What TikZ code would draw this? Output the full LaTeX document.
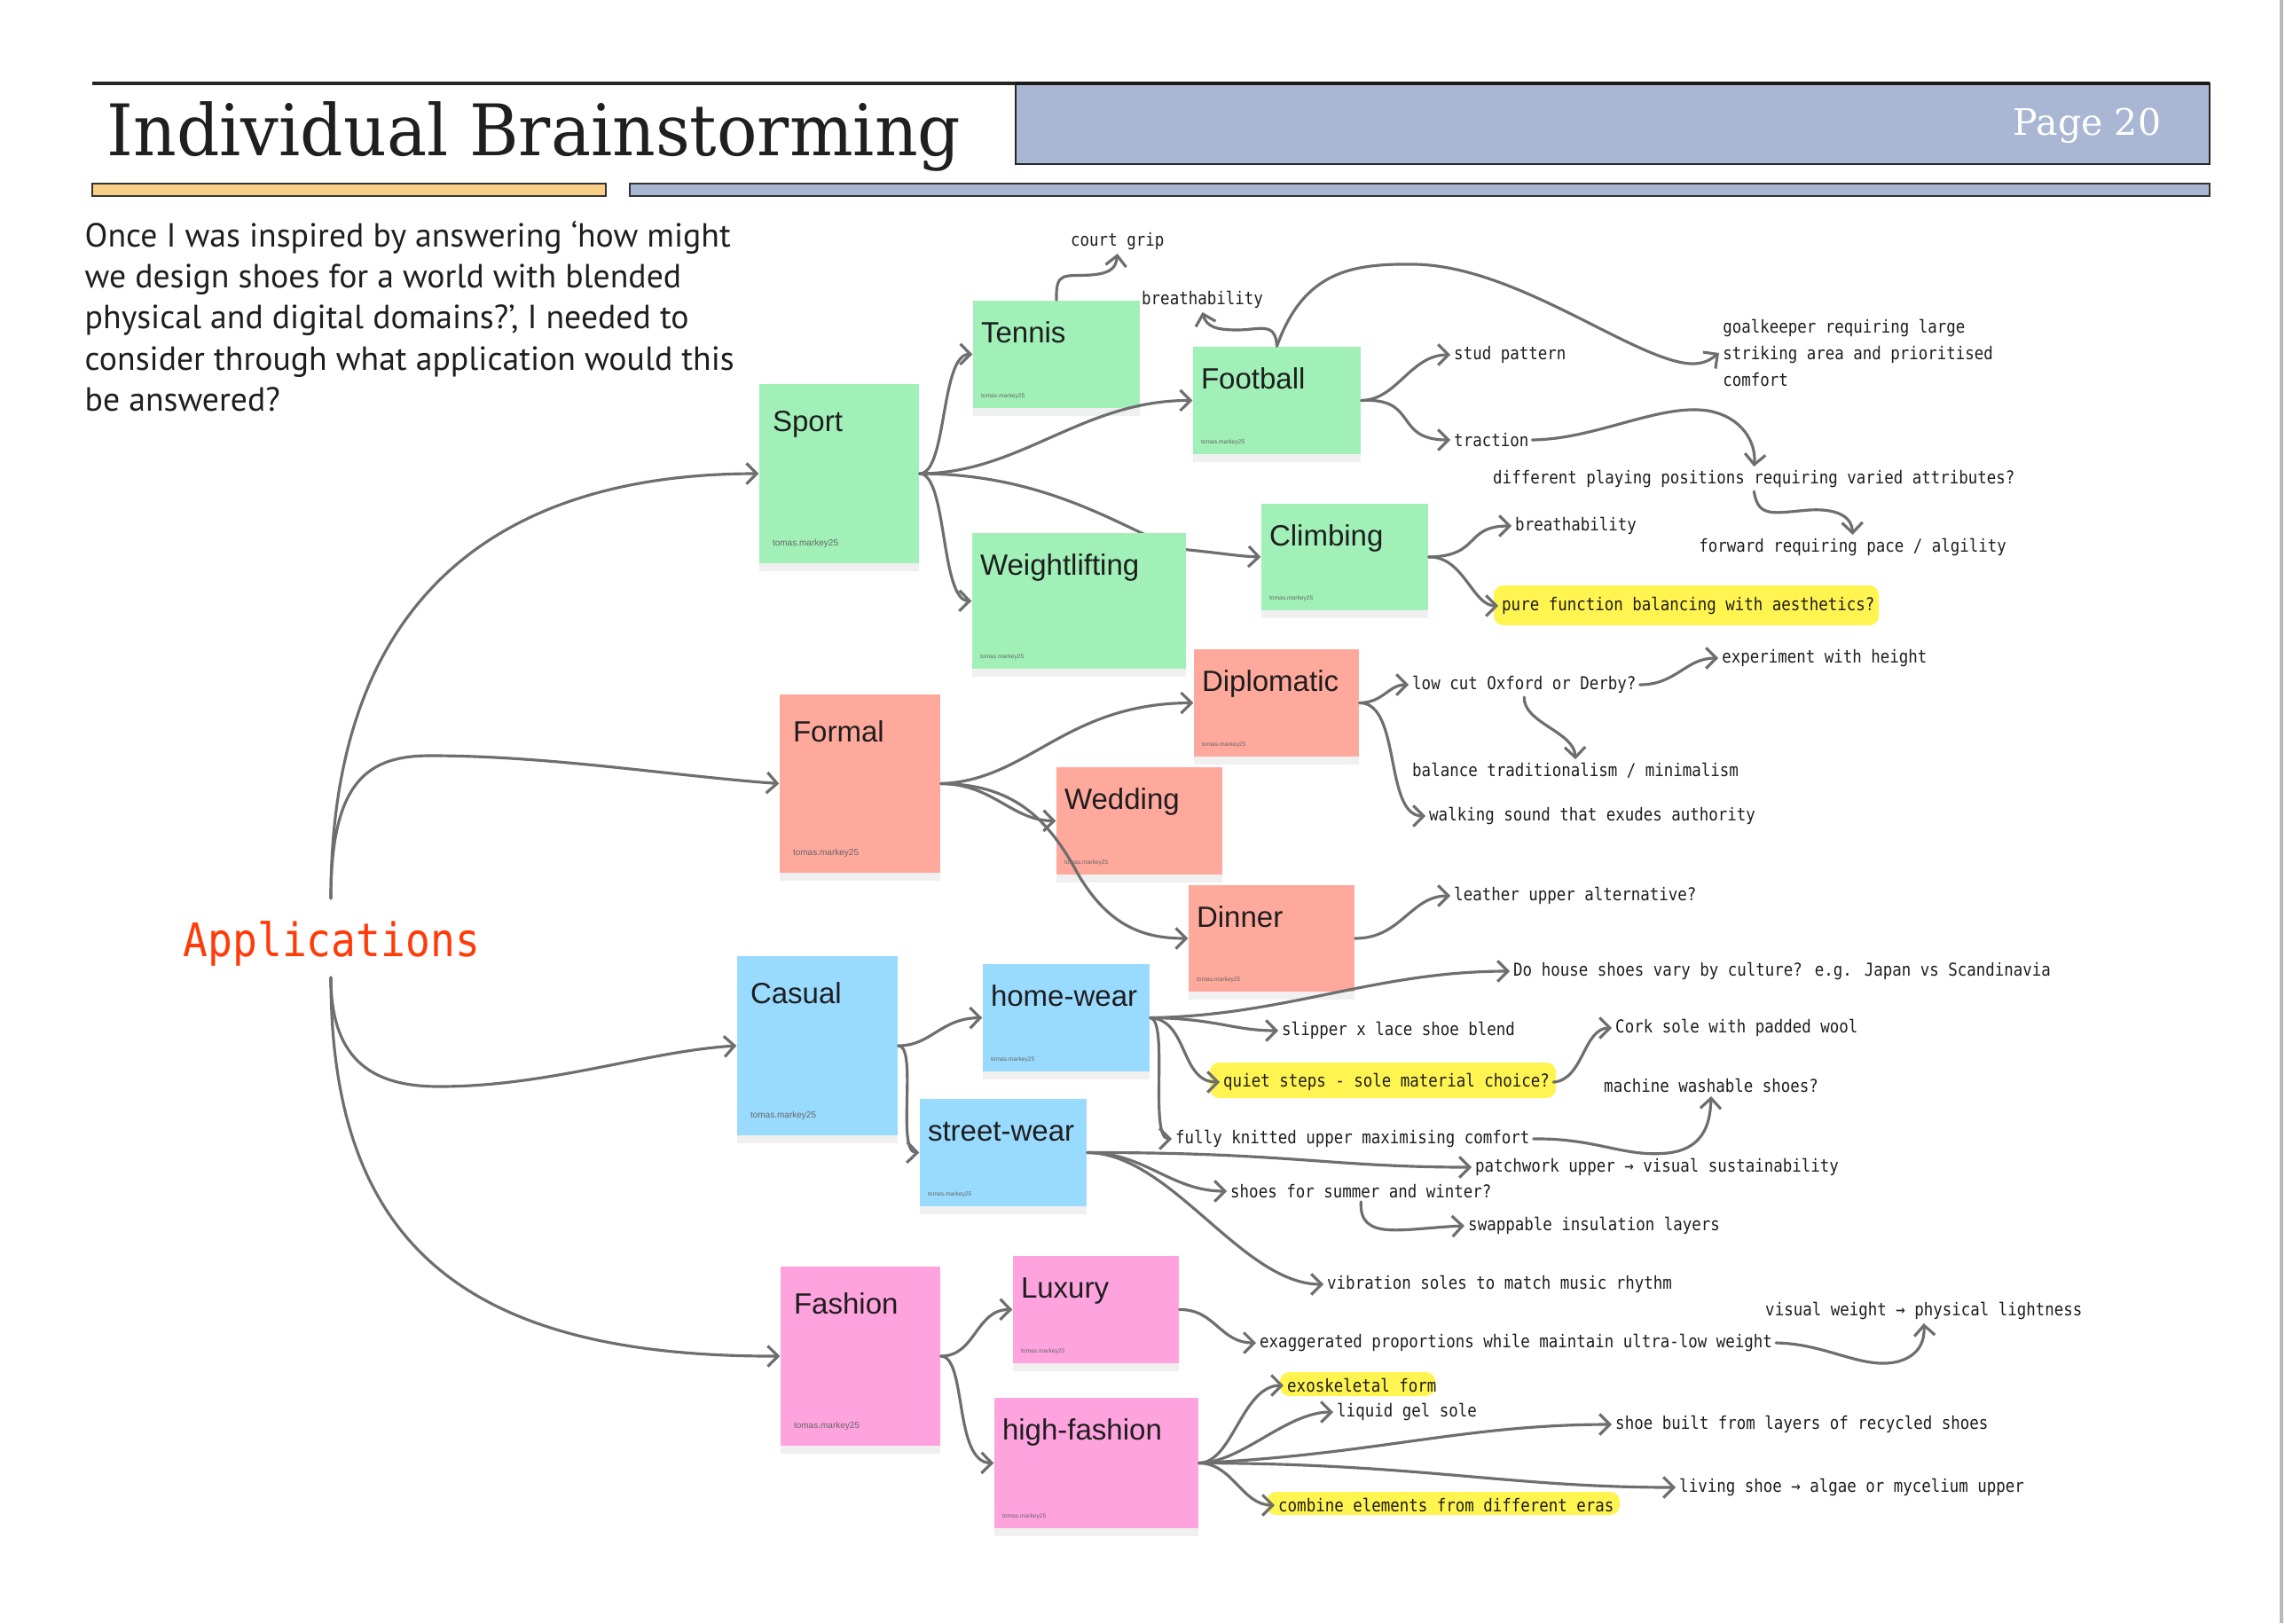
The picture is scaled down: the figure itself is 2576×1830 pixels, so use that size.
\documentclass[tikz,border=0pt]{standalone}
\usepackage{fontspec}
\usepackage{graphicx}
\usetikzlibrary{arrows.meta,calc,shadows}
\setmainfont{Liberation Sans}
\newfontfamily\titlefont{DejaVu Serif}
\newfontfamily\parafont{PT Sans}
\newfontfamily\lblfont[FakeStretch=0.872]{DejaVu Sans Mono}
\newfontfamily\appfont[FakeStretch=0.889]{DejaVu Sans Mono}
\definecolor{sgreen}{HTML}{A1F0B8}
\definecolor{ssalmon}{HTML}{FFA99D}
\definecolor{sblue}{HTML}{99DBFF}
\definecolor{spink}{HTML}{FFA3DF}
\definecolor{hblue}{HTML}{A9B6D4}
\definecolor{horange}{HTML}{F8CF85}
\definecolor{connc}{HTML}{6E6E6E}
\definecolor{appred}{HTML}{FF3B0A}
\definecolor{hilite}{HTML}{FFF450}
\definecolor{ink}{HTML}{1E1E1E}
\pgfdeclarelayer{bg}
\pgfsetlayers{bg,main}
\tikzset{
  conn/.style={draw=connc, line width=0.9pt, line cap=round, -{Straight Barb[length=3.3pt,width=6.6pt]}},
  lbl/.style={font=\lblfont\fontsize{5.69}{8.42}\selectfont, text=ink, inner sep=1pt, anchor=west},
  snote/.style={draw=none, inner sep=0pt, drop shadow={opacity=0.06, shadow xshift=0pt, shadow yshift=-2.5pt, fill=black}},
  ntitle/.style={font=\fontsize{9.39}{11}\selectfont, text=ink, inner sep=0pt, anchor=base west},
  nauthB/.style={font=\fontsize{2.85}{3.4}\selectfont, text=black!60, inner sep=0pt, anchor=west},
  nauthS/.style={font=\fontsize{1.9}{2.3}\selectfont, text=black!60, inner sep=0pt, anchor=west},
  para/.style={font=\parafont\fontsize{10.73}{13}\selectfont, text=ink, inner sep=0pt, anchor=base west},
  hl/.style={fill=hilite, rounded corners=3pt},
}
\newcommand\bignote[7]{%
  \node[snote, fill=#6, minimum width={(#4-#2)*0.01cm}, minimum height={(#5-#3)*0.01cm}] (#1) at ({(#2+#4)/2},{(#3+#5)/2}) {};
  \node[ntitle] (#1T) at ($(#1.north west)+(15,54)$) {#7};
  \node[nauthB] (#1A) at ($(#1.south west)+(15,-23)$) {tomas.markey25};
}
\newcommand\smallnote[7]{%
  \node[snote, fill=#6, minimum width={(#4-#2)*0.01cm}, minimum height={(#5-#3)*0.01cm}] (#1) at ({(#2+#4)/2},{(#3+#5)/2}) {};
  \node[ntitle] (#1T) at ($(#1.north west)+(9,48)$) {#7};
  \node[nauthS] (#1A) at ($(#1.south west)+(9,-14)$) {tomas.markey25};
}
\begin{document}
\begin{tikzpicture}[x=0.01cm,y=-0.01cm]
\useasboundingbox (0,0) rectangle (2576,1830);
\begin{pgfonlayer}{bg}
\fill[white] (0,0) rectangle (2576,1830);
\end{pgfonlayer}
\draw[gray!55, line width=1.2pt] (2572,0) -- (2572,1830);

% header
\draw[line width=0.9pt, draw=black!85] (104,94) -- (1145,94);
\filldraw[fill=hblue, draw=black!85, line width=0.5pt] (1145,94) rectangle (2491,185);
\draw[line width=1.2pt, black!90] (1145,94) -- (2491,94);
\filldraw[fill=horange, draw=black!80, line width=0.6pt] (104,207) rectangle (683,221);
\filldraw[fill=hblue, draw=black!80, line width=0.6pt] (710,207) rectangle (2491,221);
\node[anchor=base west, inner sep=0pt, font=\titlefont\fontsize{22.8}{26}\selectfont, text=black!88] (title) at (120,175) {\resizebox{9.62cm}{\height}{Individual Brainstorming}};
\node[anchor=base east, inner sep=0pt, font=\titlefont\fontsize{11.7}{14}\selectfont, text=white] (page) at (2437,152) {Page 20};

% paragraph
\node[para] (p1) at (95,278) {Once I was inspired by answering ‘how might};
\node[para] (p2) at (95,324) {we design shoes for a world with blended};
\node[para] (p3) at (95,370) {physical and digital domains?’, I needed to};
\node[para] (p4) at (95,417) {consider through what application would this};
\node[para] (p5) at (95,463) {be answered?};

% central label
\node[font=\appfont\fontsize{14.8}{16}\selectfont, text=appred, inner sep=0pt, anchor=base west] (app) at (206,1078) {Applications};
\coordinate (appTop) at (373,1013);
\coordinate (appBot) at (373,1102);

% sticky notes
\bignote{sport}{856}{433}{1036}{635}{sgreen}{Sport}
\smallnote{tennis}{1097}{339}{1285}{460}{sgreen}{Tennis}
\smallnote{football}{1345}{391}{1534}{512}{sgreen}{Football}
\smallnote{weight}{1096}{601}{1337}{754}{sgreen}{Weightlifting}
\smallnote{climbing}{1422}{568}{1610}{688}{sgreen}{Climbing}
\bignote{formal}{879}{783}{1060}{984}{ssalmon}{Formal}
\smallnote{diplomatic}{1346}{732}{1532}{853}{ssalmon}{Diplomatic}
\smallnote{wedding}{1191}{865}{1378}{986}{ssalmon}{Wedding}
\smallnote{dinner}{1340}{998}{1527}{1118}{ssalmon}{Dinner}
\bignote{casual}{831}{1078}{1012}{1280}{sblue}{Casual}
\smallnote{homewear}{1108}{1087}{1296}{1208}{sblue}{home-wear}
\smallnote{street}{1037}{1239}{1225}{1360}{sblue}{street-wear}
\bignote{fashion}{880}{1428}{1060}{1630}{spink}{Fashion}
\smallnote{luxury}{1142}{1416}{1329}{1537}{spink}{Luxury}
\smallnote{highf}{1121}{1576}{1351}{1723}{spink}{high-fashion}

% highlights
\path[hl] (1684,660) rectangle (2118,705);
\path[hl] (1364,1198) rectangle (1754,1238);
\path[hl] (1443,1547) rectangle (1618,1574);
\path[hl] (1428,1682) rectangle (1826,1708);

% labels
\node[lbl] (court) at (1203,272) {court grip};
\node[lbl] (breathA) at (1283,338) {breathability};
\node[lbl] (stud) at (1635,400) {stud pattern};
\node[lbl] (traction) at (1635,496) {traction};
\node[lbl, align=left] (goal) at (1938,398) {goalkeeper requiring large\\striking area and prioritised\\comfort};
\node[lbl] (diff) at (1679,540) {different playing positions requiring varied attributes?};
\node[lbl] (breathB) at (1704,593) {breathability};
\node[lbl] (forward) at (1911,617) {forward requiring pace / algility};
\node[lbl] (pure) at (1689,683) {pure function balancing with aesthetics?};
\node[lbl] (exper) at (1937,742) {experiment with height};
\node[lbl] (lowcut) at (1588,772) {low cut Oxford or Derby?};
\node[lbl] (balance) at (1588,869) {balance traditionalism / minimalism};
\node[lbl] (walking) at (1607,920) {walking sound that exudes authority};
\node[lbl] (leather) at (1635,1010) {leather upper alternative?};
\node[lbl] (house) at (1702,1095) {Do house shoes vary by culture? e.g. Japan vs Scandinavia};
\node[lbl] (slipper) at (1441,1162) {slipper x lace shoe blend};
\node[lbl] (cork) at (1817,1159) {Cork sole with padded wool};
\node[lbl] (quiet) at (1375,1220) {quiet steps - sole material choice?};
\node[lbl] (machine) at (1804,1224) {machine washable shoes?};
\node[lbl] (knit) at (1321,1284) {fully knitted upper maximising comfort};
\node[lbl] (patch) at (1659,1316) {patchwork upper → visual sustainability};
\node[lbl] (summer) at (1383,1343) {shoes for summer and winter?};
\node[lbl] (swap) at (1651,1382) {swappable insulation layers};
\node[lbl] (vibe) at (1492,1448) {vibration soles to match music rhythm};
\node[lbl] (visual) at (1986,1478) {visual weight → physical lightness};
\node[lbl] (exag) at (1416,1514) {exaggerated proportions while maintain ultra-low weight};
\node[lbl] (exo) at (1447,1562) {exoskeletal form};
\node[lbl] (liquid) at (1503,1592) {liquid gel sole};
\node[lbl] (recycled) at (1817,1606) {shoe built from layers of recycled shoes};
\node[lbl] (living) at (1889,1677) {living shoe → algae or mycelium upper};
\node[lbl] (combine) at (1437,1697) {combine elements from different eras};

% connector passing behind the Weightlifting note
\begin{pgfonlayer}{bg}
\draw[conn] (sport.east) .. controls (1200,534) and (1290,615) .. (1340,620) .. controls (1380,624) and (1395,627) .. (climbing.west);
\end{pgfonlayer}

% connectors
\draw[conn] (appTop) .. controls (373,640) and (600,534) .. (sport.west);
\draw[conn] (appTop) .. controls (373,880) and (415,852) .. (485,852) .. controls (620,852) and (760,875) .. (formal.west);
\draw[conn] (appBot) .. controls (373,1200) and (425,1225) .. (495,1225) .. controls (620,1225) and (730,1185) .. (casual.west);
\draw[conn] (appBot) .. controls (373,1400) and (520,1530) .. (fashion.west);

\draw[conn] (sport.east) .. controls (1068,534) and (1060,399) .. (tennis.west);
\draw[conn] (sport.east) .. controls (1068,534) and (1060,677) .. (weight.west);
\draw[conn] (sport.east) .. controls (1150,534) and (1220,451) .. (football.west);

\draw[conn] (tennis.north) .. controls (1190,305) and (1200,312) .. (1230,310) .. controls (1255,308) and (1258,300) .. (court.south);
\draw[conn] (football.north) .. controls (1438,362) and (1420,372) .. (1395,372) .. controls (1370,372) and (1360,368) .. (breathA.south);
\draw[conn] (football.north) .. controls (1470,305) and (1525,297) .. (1595,298) .. controls (1710,300) and (1840,405) .. (1905,410) .. controls (1922,411) and (1930,404) .. (goal.west);
\draw[conn] (football.east) .. controls (1575,451) and (1590,400) .. (stud.west);
\draw[conn] (football.east) .. controls (1600,448) and (1570,496) .. (traction.west);
\draw[conn] (traction.east) .. controls (1800,495) and (1870,455) .. (1925,463) .. controls (1965,470) and (1980,500) .. (diff.north);
\draw[conn] (diff.south) .. controls (1982,585) and (2000,578) .. (2040,575) .. controls (2075,573) and (2088,585) .. (forward.north);

\draw[conn] (climbing.east) .. controls (1670,627) and (1650,593) .. (breathB.west);
\draw[conn] (climbing.east) .. controls (1650,627) and (1660,683) .. (pure.west);

\draw[conn] (formal.east) .. controls (1160,880) and (1200,793) .. (diplomatic.west);
\draw[conn] (formal.east) .. controls (1120,884) and (1140,925) .. (wedding.west);
\draw[conn] (formal.east) .. controls (1140,884) and (1180,920) .. (1215,985) .. controls (1250,1045) and (1290,1058) .. (dinner.west);

\draw[conn] (diplomatic.east) .. controls (1560,792) and (1565,772) .. (lowcut.west);
\draw[conn] (diplomatic.east) .. controls (1580,792) and (1560,920) .. (walking.west);
\draw[conn] (lowcut.east) .. controls (1890,772) and (1900,742) .. (exper.west);
\draw[conn] (lowcut.south) .. controls (1717,815) and (1775,825) .. (balance.north);
\draw[conn] (dinner.east) .. controls (1580,1058) and (1590,1010) .. (leather.west);

\draw[conn] (casual.east) .. controls (1050,1179) and (1060,1148) .. (homewear.west);
\draw[conn] (casual.east) .. controls (1035,1179) and (1010,1299) .. (street.west);

\draw[conn] (homewear.east) .. controls (1450,1145) and (1550,1095) .. (house.west);
\draw[conn] (homewear.east) .. controls (1370,1148) and (1390,1162) .. (slipper.west);
\draw[conn] (homewear.east) .. controls (1340,1150) and (1330,1220) .. (quiet.west);
\draw[conn] (homewear.east) .. controls (1318,1150) and (1295,1284) .. (knit.west);
\draw[conn] (quiet.east) .. controls (1785,1218) and (1785,1159) .. (cork.west);
\draw[conn] (knit.east) .. controls (1800,1283) and (1830,1305) .. (1880,1300) .. controls (1925,1295) and (1928,1260) .. (machine.south);

\draw[conn] (street.east) .. controls (1450,1299) and (1500,1316) .. (patch.west);
\draw[conn] (street.east) .. controls (1290,1299) and (1320,1343) .. (summer.west);
\draw[conn] (street.east) .. controls (1320,1300) and (1400,1448) .. (vibe.west);
\draw[conn] (summer.south) .. controls (1532,1400) and (1580,1385) .. (swap.west);

\draw[conn] (fashion.east) .. controls (1100,1529) and (1100,1476) .. (luxury.west);
\draw[conn] (fashion.east) .. controls (1090,1529) and (1075,1649) .. (highf.west);
\draw[conn] (luxury.east) .. controls (1370,1476) and (1375,1514) .. (exag.west);
\draw[conn] (exag.east) .. controls (2060,1515) and (2100,1545) .. (2140,1535) .. controls (2165,1528) and (2170,1510) .. (visual.south);

\draw[conn] (highf.east) .. controls (1390,1649) and (1400,1562) .. (exo.west);
\draw[conn] (highf.east) .. controls (1400,1649) and (1450,1592) .. (liquid.west);
\draw[conn] (highf.east) .. controls (1550,1640) and (1650,1606) .. (recycled.west);
\draw[conn] (highf.east) .. controls (1600,1650) and (1700,1677) .. (living.west);
\draw[conn] (highf.east) .. controls (1390,1650) and (1400,1697) .. (combine.west);
\end{tikzpicture}
\end{document}
